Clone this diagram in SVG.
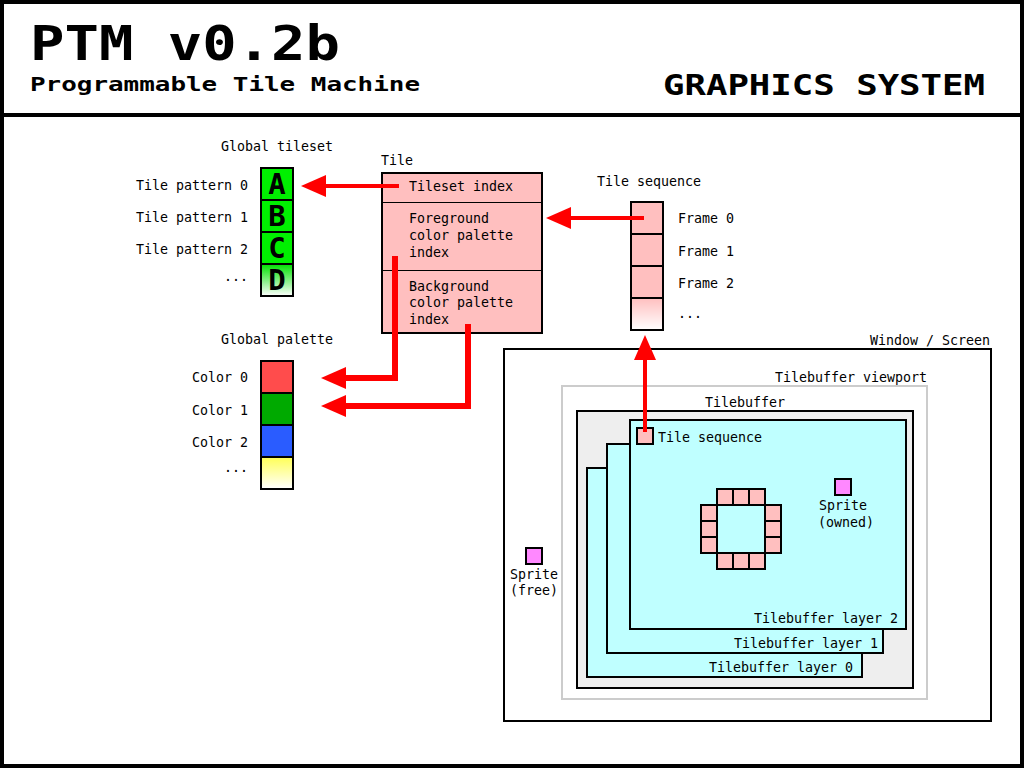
<svg xmlns="http://www.w3.org/2000/svg" width="1024" height="768" viewBox="0 0 1024 768">
<style>
text{font-family:"DejaVu Sans Mono","Liberation Mono",monospace;font-size:13.3px;fill:#000}
text.hdr{font-family:"DejaVu Sans Mono","Liberation Mono",monospace;font-weight:bold}
text.t1{font-size:48px}
text.t2{font-size:19px}
text.t3{font-size:29px}
.end{text-anchor:end}
.mid{text-anchor:middle}
.cell{stroke:#000;stroke-width:2}
text.big{font-family:"DejaVu Sans Mono","Liberation Mono",monospace;font-weight:bold;font-size:29px;text-anchor:middle}
.tb{stroke:#000;stroke-width:2}
.arrow{fill:none;stroke:#ff0000;stroke-width:4;marker-end:url(#ah)}
.thick{stroke-width:6}
</style>
<defs>
<marker id="ah" markerUnits="userSpaceOnUse" markerWidth="30" markerHeight="30" refX="1" refY="0" orient="auto" overflow="visible" viewBox="0 -15 30 30">
<path d="M0,-11 L25,0 L0,11 Z" fill="#ff0000"/>
</marker>
<linearGradient id="gG" x1="0" y1="0" x2="0" y2="1"><stop offset="0" stop-color="#00e000"/><stop offset="1" stop-color="#ffffff"/></linearGradient>
<linearGradient id="gY" x1="0" y1="0" x2="0" y2="1"><stop offset="0" stop-color="#ffff55"/><stop offset="1" stop-color="#ffffff"/></linearGradient>
<linearGradient id="gP" x1="0" y1="0" x2="0" y2="1"><stop offset="0" stop-color="#ffbfbf"/><stop offset="1" stop-color="#ffffff"/></linearGradient>
</defs>
<rect x="0" y="0" width="1024" height="768" fill="#fff"/>
<g id="header">
<rect x="2" y="2" width="1020" height="764" fill="none" stroke="#000" stroke-width="4"/>
<rect x="0" y="113" width="1024" height="4" fill="#000"/>
<text class="hdr t1" x="30" y="60" textLength="310" lengthAdjust="spacingAndGlyphs">PTM v0.2b</text>
<text class="hdr t2" x="30" y="91" textLength="390" lengthAdjust="spacingAndGlyphs">Programmable Tile Machine</text>
<text class="hdr t3" x="663" y="95" textLength="322" lengthAdjust="spacingAndGlyphs">GRAPHICS SYSTEM</text>
</g>
<g id="tileset">
<text x="221" y="151">Global tileset</text>
<rect class="cell" x="261" y="168" width="32" height="32" fill="#00f000"/>
<rect class="cell" x="261" y="200" width="32" height="32" fill="#00f000"/>
<rect class="cell" x="261" y="232" width="32" height="32" fill="#00f000"/>
<rect class="cell" x="261" y="264" width="32" height="32" fill="url(#gG)"/>
<text class="big" x="277" y="194">A</text>
<text class="big" x="277" y="226">B</text>
<text class="big" x="277" y="258">C</text>
<text class="big" x="277" y="290">D</text>
<text class="end" x="248" y="190">Tile pattern 0</text>
<text class="end" x="248" y="222">Tile pattern 1</text>
<text class="end" x="248" y="254">Tile pattern 2</text>
<text class="end" x="248" y="281">...</text>
</g>
<g id="palette">
<text x="221" y="344">Global palette</text>
<rect class="cell" x="261" y="361" width="32" height="32" fill="#ff4c4c"/>
<rect class="cell" x="261" y="393" width="32" height="32" fill="#00aa00"/>
<rect class="cell" x="261" y="425" width="32" height="32" fill="#2a5cff"/>
<rect class="cell" x="261" y="457" width="32" height="32" fill="url(#gY)"/>
<text class="end" x="248" y="382">Color 0</text>
<text class="end" x="248" y="415">Color 1</text>
<text class="end" x="248" y="447">Color 2</text>
<text class="end" x="248" y="472">...</text>
</g>
<g id="tile">
<text x="381" y="165">Tile</text>
<rect x="382" y="173" width="160" height="160" fill="#ffbfbf" stroke="#000" stroke-width="2"/>
<line x1="382" y1="202.5" x2="542" y2="202.5" stroke="#000" stroke-width="1"/>
<line x1="382" y1="270.5" x2="542" y2="270.5" stroke="#000" stroke-width="1"/>
<text x="409" y="191">Tileset index</text>
<text x="409" y="223">Foreground</text>
<text x="409" y="240">color palette</text>
<text x="409" y="257">index</text>
<text x="409" y="291">Background</text>
<text x="409" y="307">color palette</text>
<text x="409" y="324">index</text>
</g>
<g id="tile-sequence">
<text x="597" y="186">Tile sequence</text>
<rect class="cell" x="631" y="202" width="32" height="32" fill="#ffbfbf"/>
<rect class="cell" x="631" y="234" width="32" height="32" fill="#ffbfbf"/>
<rect class="cell" x="631" y="266" width="32" height="32" fill="#ffbfbf"/>
<rect class="cell" x="631" y="298" width="32" height="32" fill="url(#gP)"/>
<text x="678" y="223">Frame 0</text>
<text x="678" y="256">Frame 1</text>
<text x="678" y="288">Frame 2</text>
<text x="678" y="318">...</text>
</g>
<g id="window">
<rect x="504" y="349" width="487" height="372" fill="#fff" stroke="#000" stroke-width="2"/>
<text class="end" x="990" y="345">Window / Screen</text>
</g>
<g id="viewport">
<rect x="562" y="386" width="365" height="313" fill="none" stroke="#cccccc" stroke-width="2"/>
<text class="end" x="927" y="382">Tilebuffer viewport</text>
</g>
<g id="tilebuffer">
<rect x="577" y="411" width="336" height="277" fill="#eeeeee" stroke="#000" stroke-width="2"/>
<text x="705" y="407">Tilebuffer</text>
</g>
<g id="layer0">
<rect class="tb" x="587" y="468" width="275" height="209" fill="#bfffff"/>
<text class="end" x="853" y="672">Tilebuffer layer 0</text>
</g>
<g id="layer1">
<rect class="tb" x="607" y="444" width="276" height="209" fill="#bfffff"/>
<text class="end" x="878" y="648">Tilebuffer layer 1</text>
</g>
<g id="layer2">
<rect class="tb" x="630" y="420" width="276" height="209" fill="#bfffff"/>
<text class="end" x="898" y="623">Tilebuffer layer 2</text>
</g>
<g id="layer-tile-sequence">
<rect class="cell" x="637" y="428" width="16" height="16" fill="#ffbfbf"/>
<text x="658" y="442">Tile sequence</text>
</g>
<g id="tile-ring" fill="#ffbfbf" stroke="#000" stroke-width="2">
<rect x="717" y="489" width="16" height="16"/><rect x="733" y="489" width="16" height="16"/><rect x="749" y="489" width="16" height="16"/>
<rect x="701" y="505" width="16" height="16"/><rect x="701" y="521" width="16" height="16"/><rect x="701" y="537" width="16" height="16"/>
<rect x="765" y="505" width="16" height="16"/><rect x="765" y="521" width="16" height="16"/><rect x="765" y="537" width="16" height="16"/>
<rect x="717" y="553" width="16" height="16"/><rect x="733" y="553" width="16" height="16"/><rect x="749" y="553" width="16" height="16"/>
</g>
<g id="sprite-owned">
<rect class="cell" x="835" y="479" width="16" height="16" fill="#ff88ff"/>
<text class="mid" x="843" y="510">Sprite</text>
<text class="mid" x="846" y="527">(owned)</text>
</g>
<g id="sprite-free">
<rect class="cell" x="526" y="548" width="16" height="16" fill="#ff88ff"/>
<text class="mid" x="534" y="579">Sprite</text>
<text class="mid" x="534" y="595">(free)</text>
</g>
<g id="connectors">
<path class="arrow" d="M399,186 H325"/>
<path class="arrow" d="M644,218 H570"/>
<path class="arrow thick" d="M395,256 V378 H345"/>
<path class="arrow thick" d="M468,324 V406 H345"/>
<path class="arrow" d="M645,432 V359"/>
</g>
</svg>
